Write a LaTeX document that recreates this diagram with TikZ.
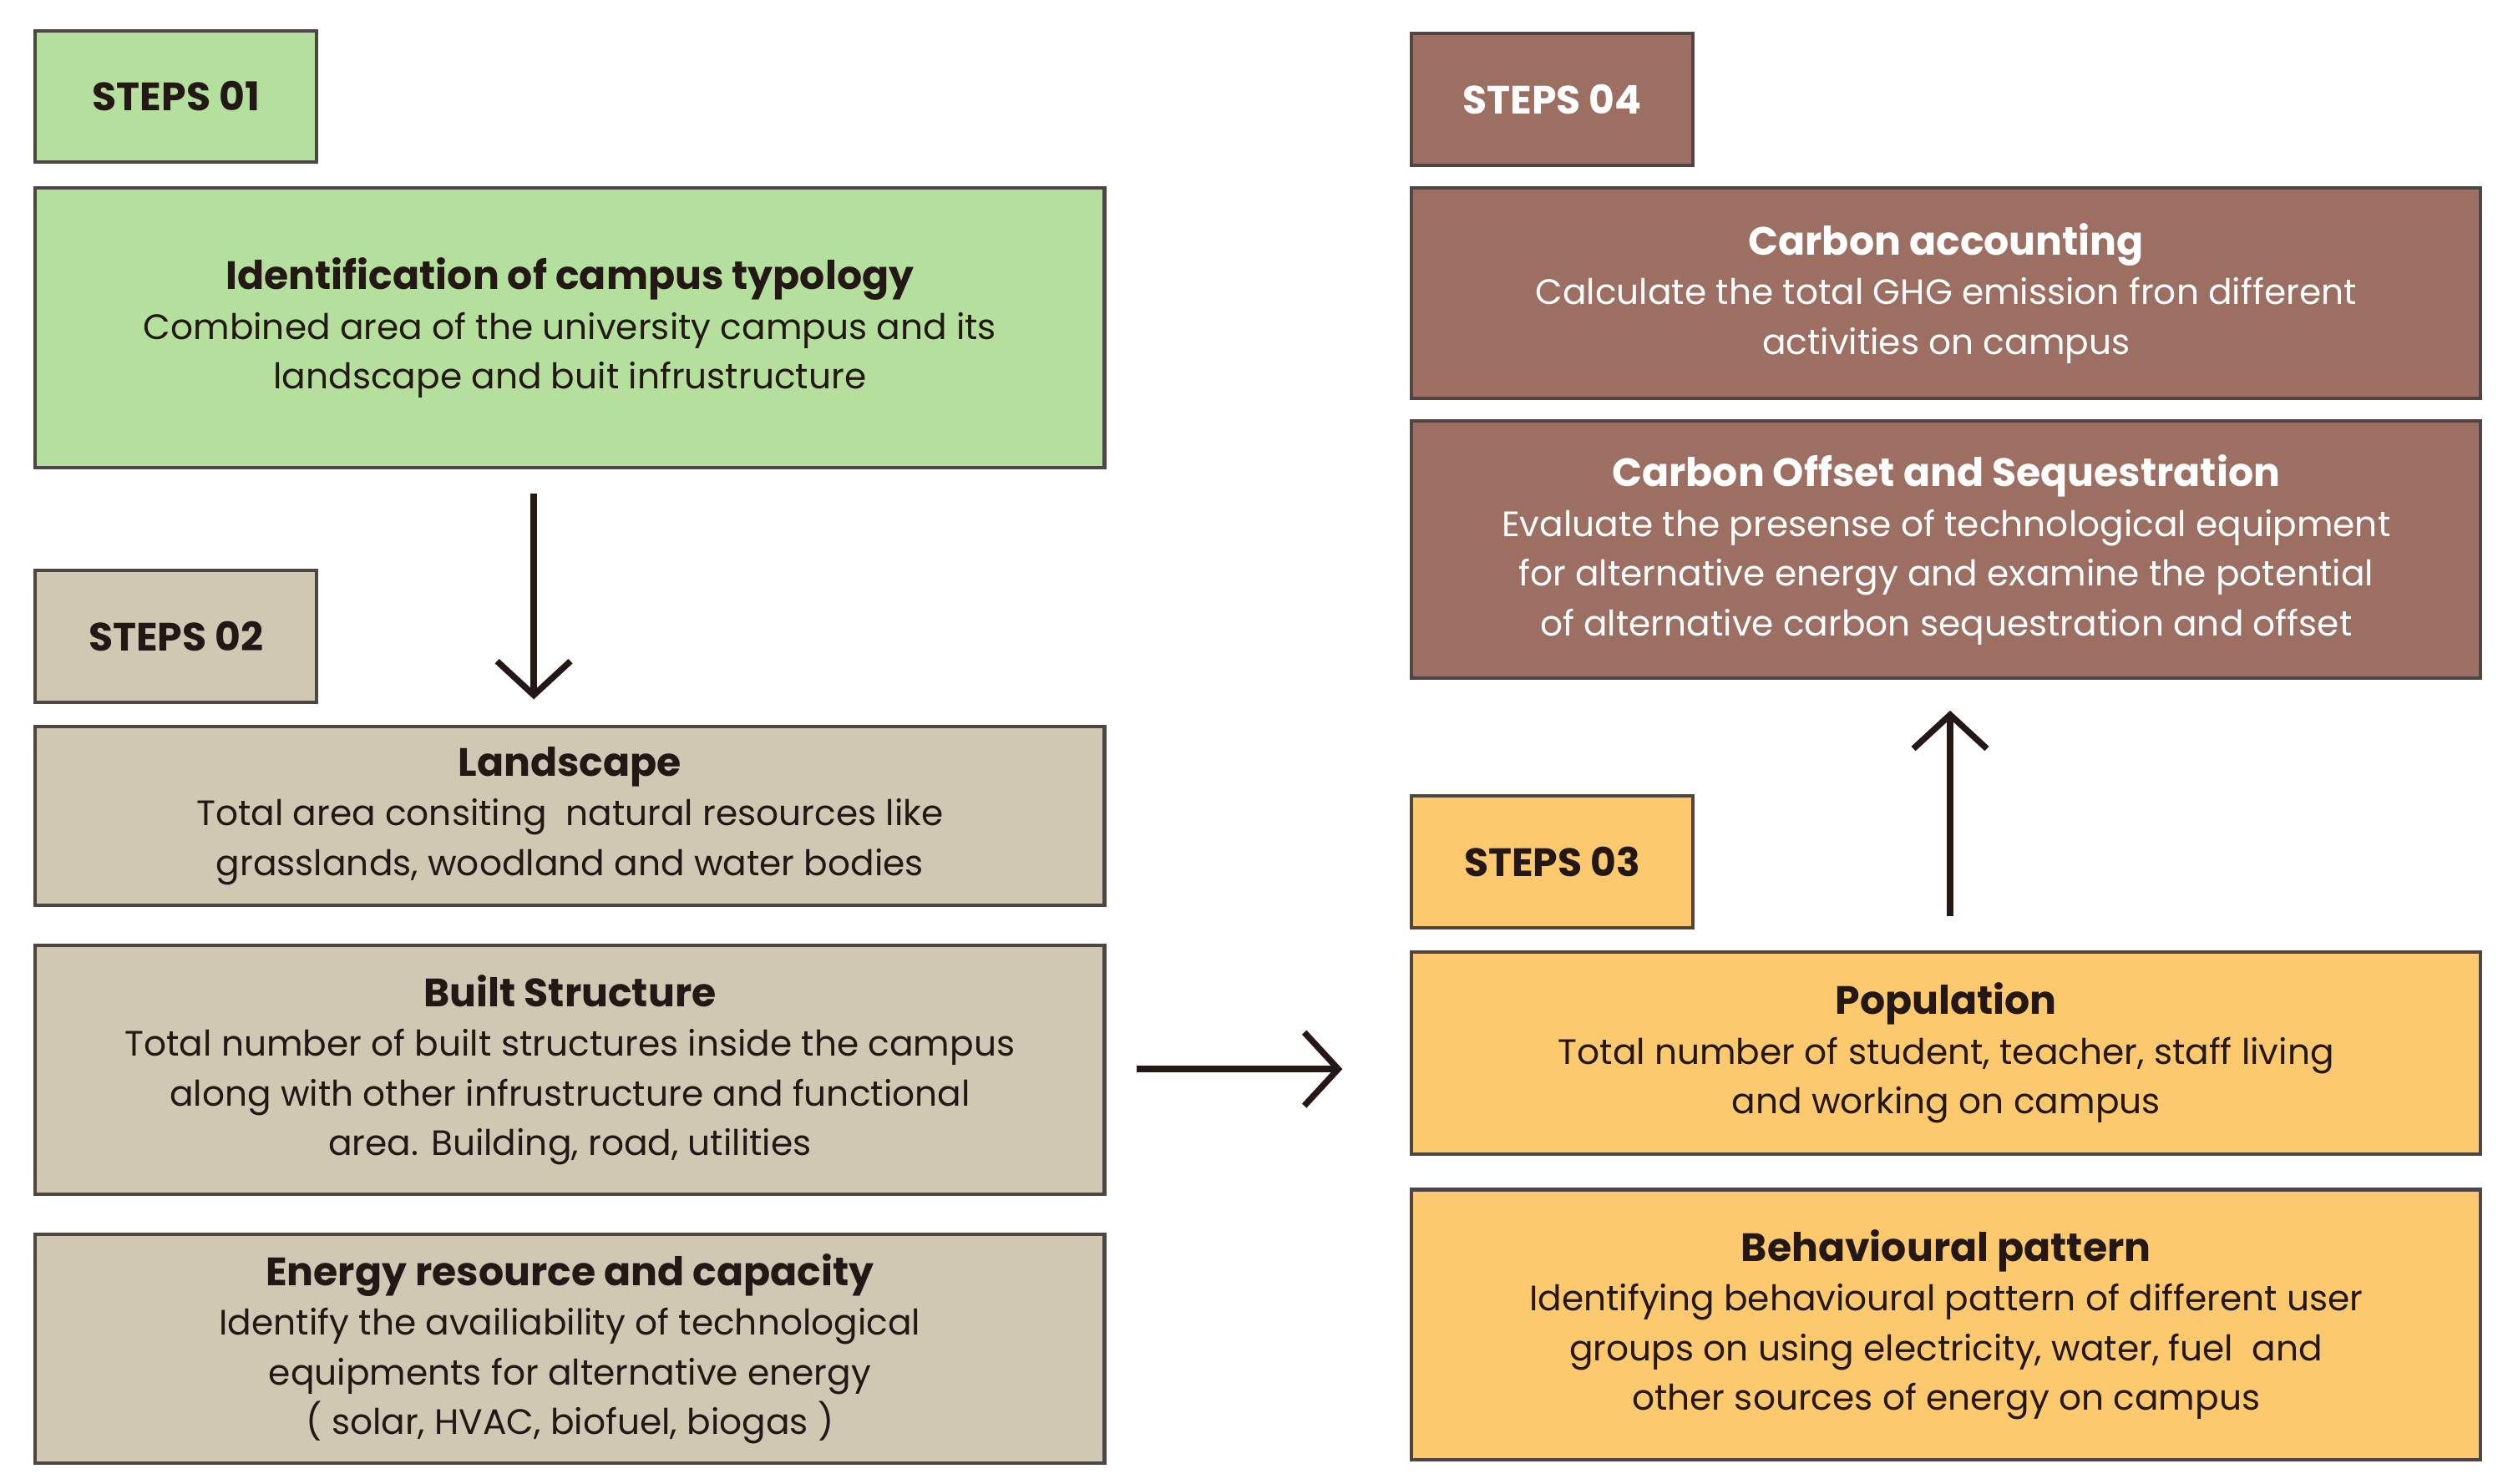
\documentclass[tikz,border=0pt]{standalone}
\usepackage{fontspec}
\setmainfont{Poppins}
\usetikzlibrary{arrows.meta}
\definecolor{gr}{HTML}{B5DF9D}
\definecolor{be}{HTML}{D1C8B4}
\definecolor{br}{HTML}{9C6F62}
\definecolor{ye}{HTML}{FDC96E}
\definecolor{ink}{HTML}{231815}
\begin{document}
\begin{tikzpicture}[x=0.02cm,y=-0.02cm,
 box/.style={draw=ink!80,line width=1.2pt,inner sep=0pt},
 txt/.style={align=center,font=\fontsize{12.5}{17.6}\selectfont,text=ink},
 ttl/.style={font=\fontsize{14}{17.6}\selectfont\bfseries},
 steplbl/.style={font=\fontsize{14}{17}\selectfont\bfseries,text=ink},
 arr/.style={line width=2.2pt,draw=ink,-{Straight Barb[length=12pt,width=26pt,line width=2.2pt]}}]
\useasboundingbox (0,0) rectangle (1560,923);
\newcommand{\bx}[6]{\filldraw[box,fill=#6] (#2,#3) rectangle (#4,#5) node[pos=.5] (#1) {};}
\bx{s1}{22}{19}{197}{101}{gr}
\node[steplbl] at (s1) {STEPS 01};
\bx{b1}{22}{117}{687}{291}{gr}
\node[txt] at (b1) {{\bfseries\fontsize{14}{17.6}\selectfont Identification of campus typology}\\Combined area of the university campus and its\\landscape and buit infrustructure};
\bx{s2}{22}{355}{197}{437}{be}
\node[steplbl] at (s2) {STEPS 02};
\bx{b2}{22}{452}{687}{563}{be}
\node[txt] at (b2) {{\bfseries\fontsize{14}{17.6}\selectfont Landscape}\\Total area consiting\ \ natural resources like\\grasslands, woodland and water bodies};
\bx{b3}{22}{588}{687}{743}{be}
\node[txt] at (b3) {{\bfseries\fontsize{14}{17.6}\selectfont Built Structure}\\Total number of built structures inside the campus\\along with other infrustructure and functional\\area. Building, road, utilities};
\bx{b4}{22}{768}{687}{910}{be}
\node[txt] at (b4) {{\bfseries\fontsize{14}{17.6}\selectfont Energy resource and capacity}\\Identify the availiability of technological\\equipments for alternative energy\\( solar, HVAC, biofuel, biogas )};
\bx{s4}{878}{21}{1053}{103}{br}
\node[steplbl,text=white] at (s4) {STEPS 04};
\bx{c1}{878}{117}{1543}{248}{br}
\node[txt,text=white] at (c1) {{\bfseries\fontsize{14}{17.6}\selectfont Carbon accounting}\\Calculate the total GHG emission fron different\\activities on campus};
\bx{c2}{878}{262}{1543}{422}{br}
\node[txt,text=white] at (c2) {{\bfseries\fontsize{14}{17.6}\selectfont Carbon Offset and Sequestration}\\Evaluate the presense of technological equipment\\for alternative energy and examine the potential\\of alternative carbon sequestration and offset};
\bx{s3}{878}{495}{1053}{577}{ye}
\node[steplbl] at (s3) {STEPS 03};
\bx{p1}{878}{592}{1543}{718}{ye}
\node[txt] at (p1) {{\bfseries\fontsize{14}{17.6}\selectfont Population}\\Total number of student, teacher, staff living\\and working on campus};
\bx{p2}{878}{740}{1543}{908}{ye}
\node[txt] at (p2) {{\bfseries\fontsize{14}{17.6}\selectfont Behavioural pattern}\\Identifying behavioural pattern of different user\\groups on using electricity, water, fuel\ \ and\\other sources of energy on campus};
\coordinate (a1) at (332,307); \coordinate (a2) at (332,435);
\draw[arr] (a1) -- (a2);
\coordinate (a3) at (707,665); \coordinate (a4) at (835,665);
\draw[arr] (a3) -- (a4);
\coordinate (a5) at (1213,570); \coordinate (a6) at (1213,442);
\draw[arr] (a5) -- (a6);
\end{tikzpicture}
\end{document}
